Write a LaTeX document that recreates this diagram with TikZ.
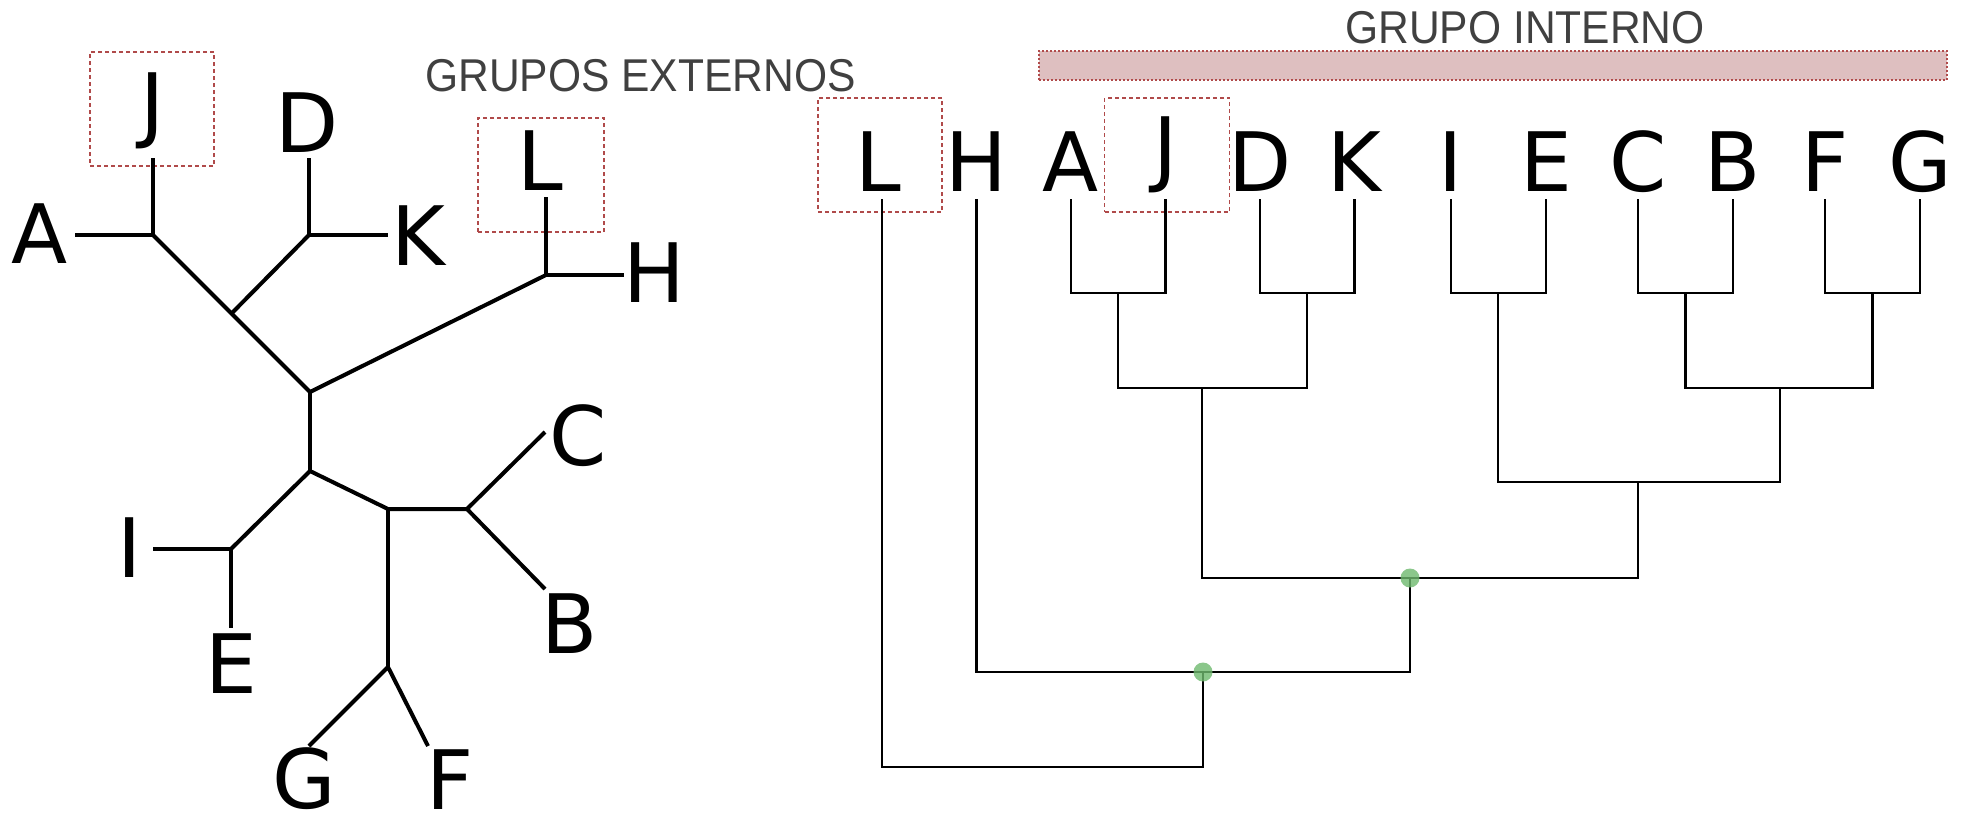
\documentclass[tikz,border=0pt]{standalone}
\usepackage{fontspec}
\newfontfamily\leaffont{DejaVu Sans}
\newfontfamily\titlefont[FakeStretch=0.925]{Liberation Sans}
\definecolor{boxred}{RGB}{176,74,74}
\definecolor{barfill}{RGB}{222,191,192}
\definecolor{titlegray}{RGB}{64,64,64}
\definecolor{dotgreen}{RGB}{110,185,110}
\begin{document}
\begin{tikzpicture}[x=0.5pt,y=-0.5pt,
 leaf/.style={font=\leaffont\fontsize{41}{41}\selectfont, inner sep=0pt, anchor=base},
 grouptitle/.style={font=\titlefont\fontsize{23}{23}\selectfont, text=titlegray, inner sep=0pt, anchor=base west},
 utree/.style={line width=2pt},
 rtree/.style={line width=1.1pt},
 outgroup/.style={draw=boxred, line width=0.6pt, dash pattern=on 2pt off 1.5pt, inner sep=0pt},
 ingroup/.style={draw=boxred, fill=barfill, line width=0.6pt, dash pattern=on 1pt off 1pt, inner sep=0pt},
 dotnode/.style={circle, fill=dotgreen, fill opacity=0.8, inner sep=0pt, minimum size=9.5pt}
]
\useasboundingbox (0,0) rectangle (1961,815);

% ---------- boxes ----------
\node[outgroup, minimum width=62pt, minimum height=57pt] (boxJl) at (152,109) {};
\node[outgroup, minimum width=63pt, minimum height=57pt] (boxLl) at (541,175) {};
\node[outgroup, minimum width=62pt, minimum height=57pt] (boxLr) at (880,155) {};
\node[outgroup, minimum width=62.5pt, minimum height=57pt] (boxJr) at (1167,155) {};
\node[ingroup, minimum width=454pt, minimum height=14.5pt] (ingroupbar) at (1493,65.5) {};

% ---------- titles ----------
\node[grouptitle] (texternos) at (425,91) {GRUPOS EXTERNOS};
\node[grouptitle] (tinterno) at (1345,43) {GRUPO INTERNO};

% ---------- unrooted tree ----------
\coordinate (jA) at (153,235);
\coordinate (tJ) at (153,158);
\coordinate (tA) at (75,235);
\coordinate (m1) at (232,313);
\coordinate (jD) at (309,235);
\coordinate (tD) at (309,158);
\coordinate (tK) at (388,235);
\coordinate (r1) at (310,392);
\coordinate (jL) at (546,275);
\coordinate (tL) at (546,197);
\coordinate (tH) at (624,275);
\coordinate (r2) at (310,471);
\coordinate (jI) at (231,549);
\coordinate (tI) at (153,549);
\coordinate (tE) at (231,628);
\coordinate (r3) at (388,509);
\coordinate (jC) at (467,509);
\coordinate (tC) at (545,432);
\coordinate (tB) at (545,589);
\coordinate (jG) at (388,667);
\coordinate (tG) at (309,746);
\coordinate (tF) at (428,746);

\draw[utree] (tA) -- (jA) -- (tJ);
\draw[utree] (jA) -- (r1);
\draw[utree] (m1) -- (jD);
\draw[utree] (tD) -- (jD) -- (tK);
\draw[utree] (r1) -- (jL);
\draw[utree] (tL) -- (jL) -- (tH);
\draw[utree] (r1) -- (r2);
\draw[utree] (r2) -- (jI);
\draw[utree] (tI) -- (jI) -- (tE);
\draw[utree] (r2) -- (r3) -- (jC);
\draw[utree] (tC) -- (jC) -- (tB);
\draw[utree] (r3) -- (jG);
\draw[utree] (tG) -- (jG) -- (tF);

\node[leaf] (lA) at (40,263) {A};
\node[leaf] (lJ) at (153,132) {J};
\node[leaf] (lD) at (307,152) {D};
\node[leaf] (lK) at (418,265) {K};
\node[leaf] (lL) at (540,190) {L};
\node[leaf] (lH) at (654,302) {H};
\node[leaf] (lC) at (578,465) {C};
\node[leaf] (lI) at (130,577) {I};
\node[leaf] (lE) at (231,693) {E};
\node[leaf] (lB) at (570,653) {B};
\node[leaf] (lG) at (304,808) {G};
\node[leaf] (lF) at (450,809) {F};

% ---------- rooted tree ----------
\coordinate (rL) at (882,199);
\coordinate (rH) at (976.5,199);
\coordinate (rA) at (1071,199);
\coordinate (rJ) at (1165.5,199);
\coordinate (rD) at (1260,199);
\coordinate (rK) at (1354.5,199);
\coordinate (rI) at (1451,199);
\coordinate (rE) at (1546,199);
\coordinate (rC) at (1638,199);
\coordinate (rB) at (1733,199);
\coordinate (rF) at (1825,199);
\coordinate (rG) at (1920,199);

\coordinate (nAJ) at (1118,293);
\coordinate (nDK) at (1307,293);
\coordinate (nIE) at (1498,293);
\coordinate (nCB) at (1685.5,293);
\coordinate (nFG) at (1872.5,293);
\coordinate (nAJDK) at (1202,388);
\coordinate (nCBFG) at (1780,388);
\coordinate (nIECBFG) at (1638,482);
\coordinate (nIn) at (1410,578);
\coordinate (nHIn) at (1203,672);
\coordinate (nRoot) at (1040,767);

\draw[rtree] (rA) |- (nAJ) -| (rJ);
\draw[rtree] (rD) |- (nDK) -| (rK);
\draw[rtree] (rI) |- (nIE) -| (rE);
\draw[rtree] (rC) |- (nCB) -| (rB);
\draw[rtree] (rF) |- (nFG) -| (rG);
\draw[rtree] (nAJ) |- (nAJDK) -| (nDK);
\draw[rtree] (nCB) |- (nCBFG) -| (nFG);
\draw[rtree] (nIE) |- (nIECBFG) -| (nCBFG);
\draw[rtree] (nAJDK) |- (nIn) -| (nIECBFG);
\draw[rtree] (rH) |- (nHIn) -| (nIn);
\draw[rtree] (rL) |- (nRoot) -| (nHIn);

\node[dotnode] (dotIn) at (nIn) {};
\node[dotnode] (dotHIn) at (nHIn) {};

\node[leaf] (RL) at (878,191) {L};
\node[leaf] (RH) at (976,191) {H};
\node[leaf] (RA) at (1071,191) {A};
\node[leaf] (RJ) at (1165.5,176) {J};
\node[leaf] (RD) at (1260,191) {D};
\node[leaf] (RK) at (1354.5,191) {K};
\node[leaf] (RI) at (1451,191) {I};
\node[leaf] (RE) at (1546,191) {E};
\node[leaf] (RC) at (1638,191) {C};
\node[leaf] (RB) at (1733,191) {B};
\node[leaf] (RF) at (1825,191) {F};
\node[leaf] (RG) at (1920,191) {G};
\end{tikzpicture}
\end{document}
